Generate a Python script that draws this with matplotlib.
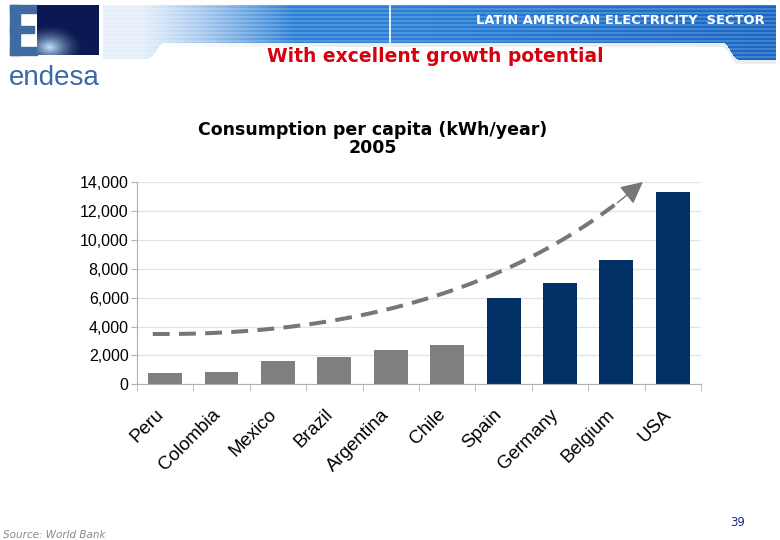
import numpy as np
import matplotlib
matplotlib.use('Agg')
import matplotlib.pyplot as plt
import matplotlib.transforms as mtrans
from matplotlib.patches import Rectangle, FancyArrowPatch
from matplotlib.ticker import FuncFormatter, MultipleLocator, FixedLocator

# Data
countries = ['Peru', 'Colombia', 'Mexico', 'Brazil', 'Argentina', 'Chile',
             'Spain', 'Germany', 'Belgium', 'USA']
consumption = [760, 850, 1590, 1870, 2360, 2740, 5960, 7000, 8610, 13350]
is_latam = [True, True, True, True, True, True, False, False, False, False]

# growth arrow anchors (start, bend, tip) in data units
arrow_start = (-0.22, 3490)
arrow_bend = (5.3, 3300)
arrow_tip = (8.47, 14020)

GREY = '#7f7f7f'
NAVY = '#023064'

fig = plt.figure(figsize=(7.8, 5.4), dpi=100)

# ---- slide background layer (pixel coordinates) ----
bg = fig.add_axes([0, 0, 1, 1])
bg.set_xlim(0, 780)
bg.set_ylim(540, 0)
bg.axis('off')

# striped blue banner
x0, x1, y0, y1 = 100, 778, 4, 64
W, H = x1 - x0, y1 - y0
xs = np.arange(W) + x0
ys = np.arange(H) + y0
X, Y = np.meshgrid(xs, ys)


def smooth(t):
    t = np.clip(t, 0, 1)
    return t * t * (3 - 2 * t)


bottom = 42 + 16 * (1 - smooth((X - 148) / 16)) + 17 * smooth((X - 722) / 16)
inside = (Y >= 5) & (Y <= bottom) & (X >= 103) & (X <= 775)
base = np.array([0.17, 0.50, 0.84])
dark = np.array([0.10, 0.40, 0.76])
mix = np.clip((X - 400) / 375.0, 0, 1)[..., None]
col = base * (1 - mix) + dark * mix
stripe = ((Y // 2) % 2 == 0)[..., None]
rgb = np.where(stripe, col * 0.82 + 0.18, col)
alpha = np.clip((X - 103) / 190.0, 0, 1) ** 1.3
alpha = np.maximum(alpha, 0.12 * (X >= 103))
img = np.zeros((H, W, 4))
img[..., :3] = rgb
img[..., 3] = alpha * inside
# soft shadow under banner
shade = (Y > bottom) & (Y < bottom + 5) & (X >= 150) & (X <= 775)
img[shade, :3] = 0.6
img[shade, 3] = 0.18 * np.clip((X[shade] - 150) / 200.0, 0, 1)
bg.imshow(img, extent=(x0, x1, y1, y0), aspect='auto', interpolation='bilinear', zorder=1)
bg.plot([390, 390], [5, 42], color='white', lw=1.2, zorder=2)

bg.text(765, 20, 'LATIN AMERICAN ELECTRICITY  SECTOR', color='white',
        fontsize=9.4, fontweight='bold', ha='right', va='center', zorder=3)
bg.text(435, 56, 'With excellent growth potential', color='#d6000f',
        fontsize=13.5, fontweight='bold', ha='center', va='center', zorder=3)

# endesa logo
logo_blue = '#3f6aa2'
for (rx, ry, rw, rh) in [(10, 5, 10, 50), (10, 5, 27, 8), (10, 26, 24, 7), (10, 47, 27, 8)]:
    bg.add_patch(Rectangle((rx, ry), rw, rh, color=logo_blue, zorder=3))
lx, ly = np.meshgrid(np.linspace(0, 1, 62), np.linspace(0, 1, 50))
r = np.hypot(lx - 0.2, (ly - 0.85) * 1.2)
glow = np.clip(1 - r / 0.55, 0, 1) ** 1.6
navy = np.array([0.04, 0.10, 0.32])
light = np.array([0.75, 0.9, 1.0])
logo = navy + (light - navy) * glow[..., None]
bg.imshow(logo, extent=(37, 99, 55, 5), aspect='auto', zorder=3)
bg.text(9, 85, 'endesa', color='#3b68a8', fontsize=20, family='Liberation Sans',
        ha='left', va='baseline', zorder=3)

# chart title
bg.text(373, 130, 'Consumption per capita (kWh/year)', fontsize=12.5,
        fontweight='bold', ha='center', va='center')
bg.text(373, 148, '2005', fontsize=12.5, fontweight='bold', ha='center', va='center')

bg.text(3, 535, 'Source: World Bank', color='#888888', fontsize=7.5,
        style='italic', ha='left', va='center')
bg.text(738, 523, '39', color='#1c2f8f', fontsize=8.5, ha='center', va='center')

# ---- chart ----
ax = fig.add_axes([0.1756, 0.2883, 0.7231, 0.3741])
pos = np.arange(len(countries))
colors = [GREY if l else NAVY for l in is_latam]
ax.bar(pos, consumption, width=0.6, color=colors, zorder=2)

ax.set_xlim(-0.5, len(countries) - 0.5)
ax.set_ylim(0, 14000)
ax.yaxis.set_major_locator(MultipleLocator(2000))
ax.yaxis.set_major_formatter(FuncFormatter(lambda v, p: f'{int(v):,}'))
ax.grid(axis='y', color='#e3e3e3', lw=0.9, zorder=0)
for s in ['top', 'right']:
    ax.spines[s].set_visible(False)
for s in ['left', 'bottom']:
    ax.spines[s].set_color('#b0b0b0')

ax.set_xticks(pos)
ax.set_xticklabels(countries, rotation=45, ha='right', va='center',
                   rotation_mode='anchor', fontsize=13.5, family='Liberation Sans')
ax.tick_params(axis='x', which='major', length=0, pad=20)
shift = mtrans.ScaledTranslation(-4 / 100, 0, fig.dpi_scale_trans)
for lab in ax.get_xticklabels():
    lab.set_transform(lab.get_transform() + shift)
ax.xaxis.set_minor_locator(FixedLocator(np.arange(-0.5, len(countries), 1.0)))
ax.tick_params(axis='x', which='minor', length=5, color='#b0b0b0')
ax.tick_params(axis='y', length=4, color='#b0b0b0', labelsize=11.5, pad=2)
for t in ax.get_yticklabels():
    t.set_family('Liberation Sans')

# dashed growth arrow (quadratic curve)
t = np.linspace(0, 0.94, 80)[:, None]
P0, P1, P2 = np.array(arrow_start), np.array(arrow_bend), np.array(arrow_tip)
curve = (1 - t) ** 2 * P0 + 2 * t * (1 - t) * P1 + t ** 2 * P2
ax.plot(curve[:, 0], curve[:, 1], color='#777777', lw=2.9, dashes=(4.2, 2.3),
        solid_capstyle='butt', zorder=3, clip_on=False)
tb = 0.93
base_pt = (1 - tb) ** 2 * P0 + 2 * tb * (1 - tb) * P1 + tb ** 2 * P2
ax.add_patch(FancyArrowPatch(tuple(base_pt), arrow_tip,
                             arrowstyle='-|>,head_length=0.9,head_width=0.45',
                             mutation_scale=15, color='#777777', lw=1,
                             shrinkA=0, shrinkB=0, zorder=3, clip_on=False))

fig.savefig('out.png', dpi=100)
